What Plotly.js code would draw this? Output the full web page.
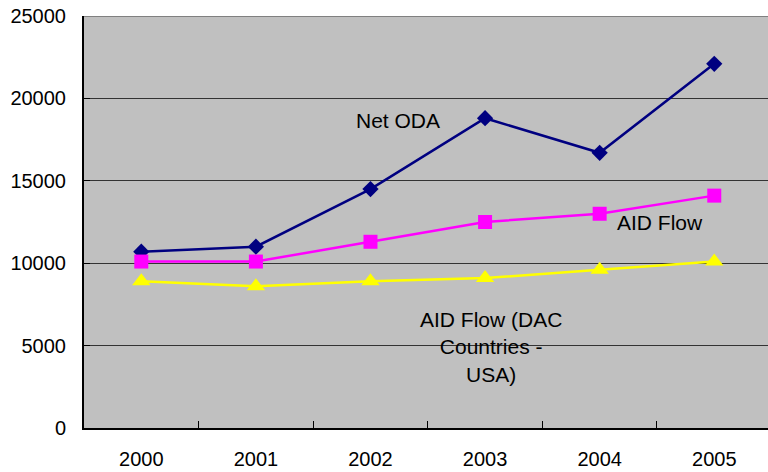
<!DOCTYPE html>
<html><head><meta charset="utf-8">
<script src="https://cdn.plot.ly/plotly-3.0.1.min.js"></script>
<style>html,body{margin:0;padding:0;background:#fff;}#chart{width:768px;height:472px;}</style>
</head><body><div id="chart"></div>
<script>
const years = ["2000","2001","2002","2003","2004","2005"];
const netODA = [10700, 11000, 14500, 18800, 16700, 22100];
const aidFlow = [10100, 10100, 11300, 12500, 13000, 14100];
const aidFlowDAC = [8900, 8600, 8900, 9100, 9600, 10100];
const yTicks = [0, 5000, 10000, 15000, 20000, 25000];

const fam = "Liberation Sans, Arial, sans-serif";
const tickFont = {family: fam, size: 20, color: "#000"};
const annFont = {family: fam, size: 21, color: "#000"};

const traces = [
  {x: years, y: netODA, name: "Net ODA", mode: "lines+markers", type: "scatter",
   line: {color: "#000080", width: 2.5}, marker: {symbol: "diamond", size: 12.5, color: "#000080"}},
  {x: years, y: aidFlow, name: "AID Flow", mode: "lines+markers", type: "scatter",
   line: {color: "#ff00ff", width: 2.5}, marker: {symbol: "square", size: 14, color: "#ff00ff"}},
  {x: years, y: aidFlowDAC, name: "AID Flow (DAC Countries - USA)", mode: "lines+markers", type: "scatter",
   line: {color: "#ffff00", width: 2.5}, marker: {symbol: "triangle-up", size: 16, color: "#ffff00"}}
];

const layout = {
  width: 768, height: 472,
  margin: {l: 84, r: 0, t: 16, b: 44},
  paper_bgcolor: "#ffffff", plot_bgcolor: "#c0c0c0",
  showlegend: false,
  font: tickFont,
  xaxis: {type: "category", range: [-0.5, 5.469], tickson: "boundaries", ticks: "inside", ticklen: 7,
          tickcolor: "#000", tickwidth: 1, showgrid: false, showline: true, linecolor: "#000", linewidth: 2,
          tickfont: tickFont, ticklabelstandoff: 12, zeroline: false, fixedrange: true},
  yaxis: {range: [0, 25000], tickvals: yTicks, ticktext: yTicks.map(String), ticks: "inside", ticklen: 6,
          tickcolor: "#000", showgrid: true, gridcolor: "#333", gridwidth: 1, showline: true,
          linecolor: "#000", linewidth: 2, zeroline: false, tickfont: tickFont, ticklabelstandoff: 12, fixedrange: true},
  shapes: [{type: "line", xref: "paper", yref: "y", x0: 0, x1: 1, y0: 25000, y1: 25000,
            line: {color: "#808080", width: 2}}],
  annotations: [
    {x: 2.236, y: 18630, xref: "x", yref: "y", text: "Net ODA", showarrow: false, font: annFont},
    {x: 4.526, y: 12440, xref: "x", yref: "y", text: "AID Flow", showarrow: false, font: annFont},
    {x: 3.056, y: 4915, xref: "x", yref: "y", text: "AID Flow (DAC<br>Countries -<br>USA)", showarrow: false,
     align: "center", font: annFont}
  ]
};

Plotly.newPlot("chart", traces, layout, {staticPlot: true});
</script></body></html>
